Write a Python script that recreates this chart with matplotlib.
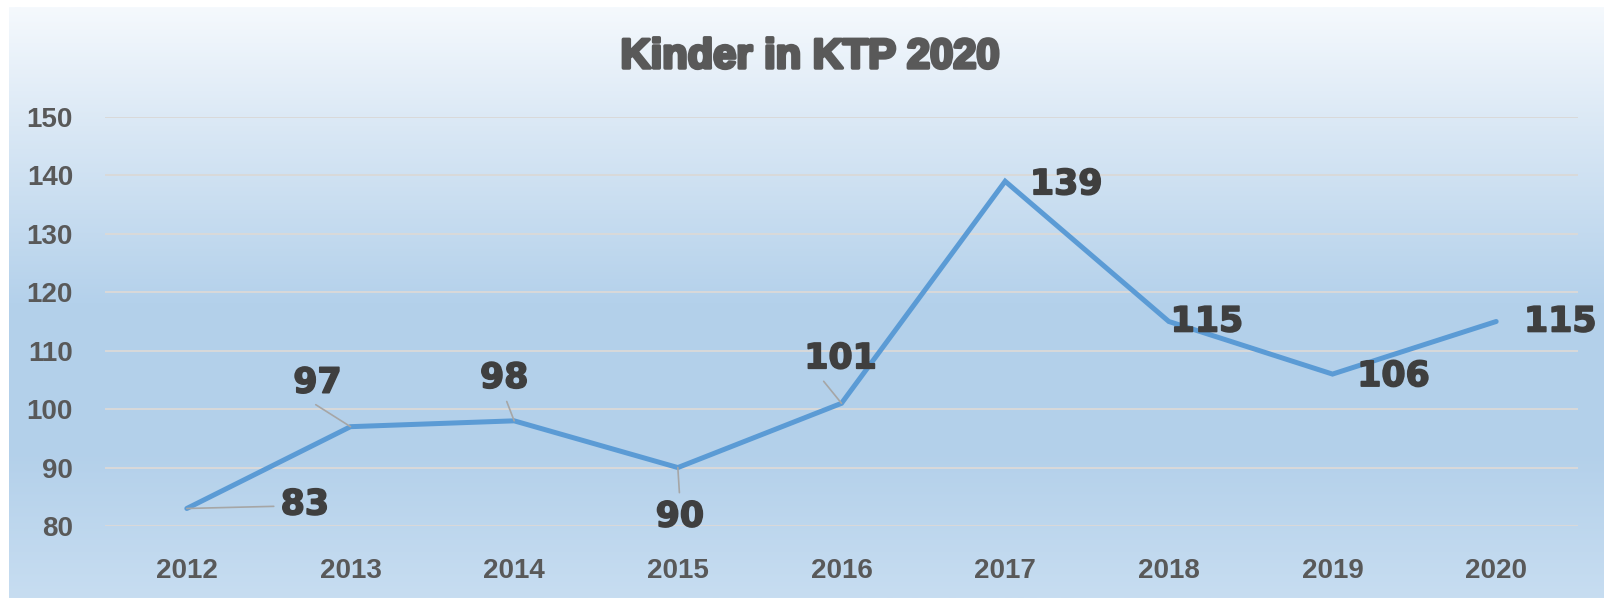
"""Kinder in KTP 2020 - line chart with data labels."""

import numpy as np
import matplotlib
matplotlib.use('Agg')
import matplotlib.pyplot as plt
import matplotlib.patheffects as pe
from matplotlib.colors import LinearSegmentedColormap

years = ['2012', '2013', '2014', '2015', '2016', '2017', '2018', '2019', '2020']
kinder = [83, 97, 98, 90, 101, 139, 115, 106, 115]
title = 'Kinder in KTP 2020'

# label offsets in pixels (dx, dy) and leader line anchor on the label
label_offsets = [(118, 4), (-33, 44), (-10, 43), (2, -49), (-1, 45),
                 (61, -3), (38, 0), (61, -2), (64, 0)]
leader_anchor = [(0, 0.45), (0.3, 0), (0.5, 0), (0.5, 1), (0.2, 0),
                 None, None, None, None]


def main():
    fig = plt.figure(figsize=(16.04, 5.98), dpi=100)
    fig.patch.set_facecolor('white')

    # gradient background
    bg = fig.add_axes([9 / 1604, 0, 1 - 9 / 1604, 1 - 7 / 598], zorder=0)
    cmap = LinearSegmentedColormap.from_list(
        'bg', [(0.0, '#f5f9fd'), (0.2, '#dae8f5'), (0.5, '#b4d1eb'),
               (0.75, '#b3d0ea'), (1.0, '#c7ddf1')])
    bg.imshow(np.linspace(0, 1, 256).reshape(-1, 1), cmap=cmap,
              aspect='auto', extent=[0, 1, 0, 1], origin='upper')
    bg.set_axis_off()

    ax = fig.add_axes([105 / 1604, 1 - 526 / 598, 1473 / 1604, 409 / 598],
                      zorder=1)
    ax.patch.set_alpha(0)

    x = np.arange(len(years))
    ax.plot(x, kinder, color='#5b9bd5', lw=3.6, solid_joinstyle='miter',
            solid_capstyle='round', zorder=3)

    heavy = [pe.withStroke(linewidth=1.2, foreground='#3f3f3f')]
    for xi, v, off, rel in zip(x, kinder, label_offsets, leader_anchor):
        arrow = None
        if rel is not None:
            arrow = dict(arrowstyle='-', color='#a6a6a6', lw=1.2,
                         shrinkA=3, shrinkB=0, relpos=rel)
        ax.annotate(str(v), (xi, v), xytext=off, textcoords='offset pixels',
                    ha='center', va='center', fontsize=25,
                    fontweight='bold', family='DejaVu Sans', color='#3f3f3f',
                    arrowprops=arrow, path_effects=heavy, zorder=4)

    ax.set_xlim(-0.5, len(years) - 0.5)
    ax.set_ylim(80, 150)
    ax.set_yticks(range(80, 151, 10))
    ax.set_xticks(x)
    ax.set_xticklabels(years)
    ax.yaxis.grid(True, color='#d9d9d9', lw=1.4)
    ax.set_axisbelow(True)
    for s in ax.spines.values():
        s.set_visible(False)
    ax.tick_params(length=0, labelsize=20, labelcolor='#595959')
    ax.tick_params(axis='y', pad=23)
    ax.tick_params(axis='x', pad=23)
    for lbl in ax.get_xticklabels() + ax.get_yticklabels():
        lbl.set_family('Liberation Sans')
        lbl.set_fontweight('bold')

    fig.text(810 / 1604, 1 - 57 / 598, title, ha='center', va='center',
             fontsize=30, fontweight='bold', family='Liberation Sans',
             color='#595959',
             path_effects=[pe.withStroke(linewidth=2.5, foreground='#595959')])

    fig.savefig('out.png', dpi=100)


if __name__ == '__main__':
    main()
